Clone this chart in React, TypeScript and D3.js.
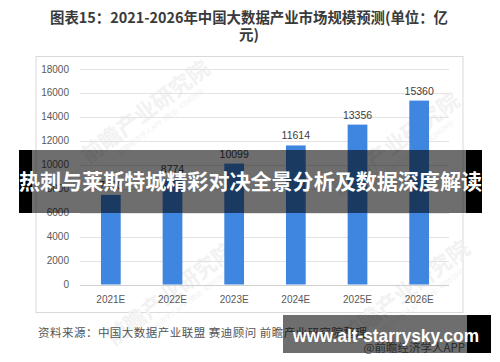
import React from "react";
import * as d3 from "d3";

const categories = ["2021E", "2022E", "2023E", "2024E", "2025E", "2026E"];
const values = [7480, 8774, 10099, 11614, 13356, 15360];
const yTicks = [0, 2000, 4000, 6000, 8000, 10000, 12000, 14000, 16000, 18000];
const titleLine1 = "图表15：2021-2026年中国大数据产业市场规模预测(单位：亿";
const titleLine2 = "元)";
const sourceText = "资料来源：中国大数据产业联盟 赛迪顾问 前瞻产业研究院整理";
const appText = "@前瞻经济学人APP";
const bannerText = "热刺与莱斯特城精彩对决全景分析及数据深度解读";
const urlText = "www.alt-starrysky.com";
const watermark = "前瞻产业研究院";

const W = 500;
const H = 362;
const CJK = "'Noto Sans CJK SC', 'Noto Sans', sans-serif";
const LAT = "'Liberation Sans', Arial, 'Noto Sans CJK SC', sans-serif";

export default function App() {
  const x = d3.scaleBand<string>().domain(categories).range([80, 450]).paddingInner(0.68).paddingOuter(0.34);
  const y = d3.scaleLinear().domain([0, 18000]).range([284.5, 69]);

  const wmPositions = [
    [150, 118],
    [400, 150],
    [175, 300],
    [410, 298],
  ];

  return (
    <svg width={W} height={H} style={{ position: "absolute", left: 0, top: 0, background: "#fff" }}>
      <rect x={0} y={0} width={W} height={H} fill="#fff" />
      {/* title */}
      <text x={249} y={23} textAnchor="middle" fontFamily={CJK} fontWeight={700} fontSize={14.5} fill="#3a3a3a" textLength={398} lengthAdjust="spacingAndGlyphs">
        {titleLine1}
      </text>
      <text x={249} y={40} textAnchor="middle" fontFamily={CJK} fontWeight={700} fontSize={14.5} fill="#3a3a3a">
        {titleLine2}
      </text>

      {/* chart box */}
      <rect x={36} y={56.5} width={427} height={256} fill="#fff" stroke="#d9d9d9" strokeWidth={1} />

      {/* watermarks */}
      {wmPositions.map(([cx, cy], i) => (
        <g key={i} transform={`translate(${cx},${cy}) rotate(-37)`}>
          <text x={0} y={0} textAnchor="middle" fontFamily={CJK} fontWeight={700} fontSize={22} fill="#f2f2f2">
            {watermark}
          </text>
          <text x={6} y={12} textAnchor="middle" fontFamily={CJK} fontSize={7} fill="#f2f2f2">
            前瞻经济学人APP (微信: 4396399)
          </text>
        </g>
      ))}

      {/* gridlines & y ticks */}
      {yTicks.map((t) => (
        <g key={t}>
          <line x1={80} x2={449} y1={Math.round(y(t)) + 0.5} y2={Math.round(y(t)) + 0.5} stroke={t === 0 ? "#d0d0d0" : "#e3e3e3"} strokeWidth={1} />
          <text x={69} y={y(t)} dy="0.35em" textAnchor="end" fontFamily={LAT} fontSize={10} fill="#595959">
            {t}
          </text>
        </g>
      ))}

      {/* bars */}
      {categories.map((c, i) => (
        <g key={c}>
          <rect x={x(c)} y={y(values[i])} width={x.bandwidth()} height={y(0) - y(values[i])} fill="#3f86e0" />
          <text x={(x(c) as number) + x.bandwidth() / 2} y={y(values[i]) - 6} textAnchor="middle" fontFamily={LAT} fontSize={10.5} fill="#404040">
            {values[i]}
          </text>
          <text x={(x(c) as number) + x.bandwidth() / 2} y={299} dy="0.35em" textAnchor="middle" fontFamily={LAT} fontSize={10} fill="#595959">
            {c}
          </text>
        </g>
      ))}

      {/* source */}
      <text x={38} y={333} dy="0.35em" fontFamily={CJK} fontSize={11.5} fill="#555" textLength={329} lengthAdjust="spacing">
        {sourceText}
      </text>
      <text x={465} y={348} dy="0.35em" textAnchor="end" fontFamily={CJK} fontSize={11.5} fill="#666">
        {appText}
      </text>

      {/* banner overlay */}
      <rect x={19} y={150} width={13} height={63} fill="#000" />
      <rect x={466} y={150} width={16} height={63} fill="#000" />
      <rect x={32} y={150} width={434} height={63} fill="rgba(0,0,0,0.57)" />
      <text x={250.5} y={182} dy="0.35em" textAnchor="middle" fontFamily={CJK} fontWeight={700} fontSize={21} fill="#fff" textLength={463} lengthAdjust="spacingAndGlyphs">
        {bannerText}
      </text>

      {/* url overlay */}
      <rect x={467} y={315} width={24} height={38} fill="#000" />
      <rect x={283} y={315} width={184} height={38} fill="rgba(0,0,0,0.57)" />
      <text x={293} y={342} fontFamily={LAT} fontWeight={700} fontSize={19} fill="#fff" textLength={186} lengthAdjust="spacingAndGlyphs">
        {urlText}
      </text>
    </svg>
  );
}
